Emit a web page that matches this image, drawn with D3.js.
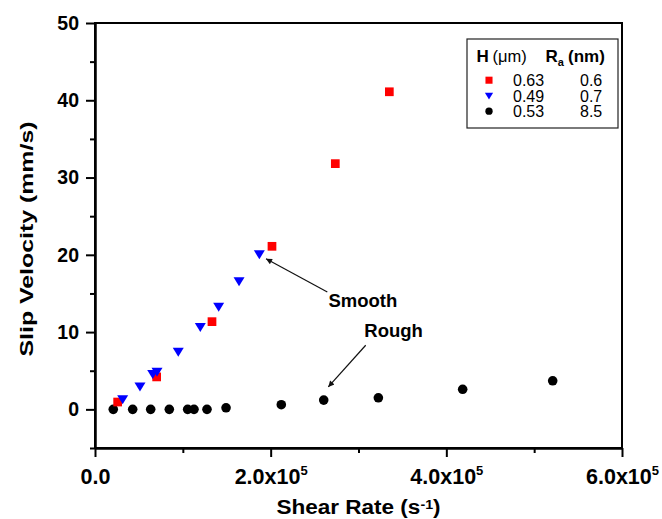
<!DOCTYPE html>
<html>
<head>
<meta charset="utf-8">
<script src="https://cdn.jsdelivr.net/npm/d3@7"></script>
<style>
  body { margin: 0; background: #fff; }
  svg { display: block; font-family: "Liberation Sans", Arial, sans-serif; }
  .x-major .tick text { font-size: 21.5px; font-weight: bold; font-family: "Liberation Sans", Arial, sans-serif; }
  .y-major .tick text { font-size: 19.5px; font-weight: bold; font-family: "Liberation Sans", Arial, sans-serif; }
</style>
</head>
<body>
<svg id="chart" width="662" height="519"></svg>
<script>
/*************************************/
/*            Chart data             */
/*************************************/
// H = 0.63 um, Ra = 0.6 nm
const redX = [25800, 70200, 133200, 201500, 273600, 335100];
const redY = [0.95, 4.2, 11.35, 21.1, 31.8, 41.1];

// H = 0.49 um, Ra = 0.7 nm
const blueX = [31500, 51200, 65700, 70600, 94800, 119900, 140800, 164000, 187100];
const blueY = [1.25, 2.9, 4.5, 4.8, 7.4, 10.6, 13.2, 16.5, 20.0];

// H = 0.53 um, Ra = 8.5 nm
const blackX = [20800, 42900, 63400, 84600, 105500, 112700, 127500, 149200, 212100, 260400, 322600, 418600, 521100];
const blackY = [0, 0, 0, 0, 0, 0, 0, 0.2, 0.6, 1.2, 1.5, 2.6, 3.7];

const legendH  = ["0.63", "0.49", "0.53"];
const legendRa = ["0.6", "0.7", "8.5"];

const xMajorTicks = [0, 200000, 400000, 600000];
const xTickLabels = [["0.0", ""], ["2.0x10", "5"], ["4.0x10", "5"], ["6.0x10", "5"]];
const xMinorTicks = [100000, 300000, 500000];
const yMajorTicks = [0, 10, 20, 30, 40, 50];
const yMinorTicks = [-5, 5, 15, 25, 35, 45];

// annotations, in data units: [label, textX, textY, tailX, tailY, tipX, tipY]
const notes = [
  ["Smooth", 265800, 13.3, 264500, 15.2, 194700, 19.5],
  ["Rough", 306600, 9.4, 308200, 8.3, 265600, 2.9]
];

/*************************************/
/*           Chart setup             */
/*************************************/
const width = 662;
const height = 519;
const margin = { top: 23, right: 40, bottom: 71, left: 95 };
const innerWidth = width - margin.left - margin.right;
const innerHeight = height - margin.top - margin.bottom;

const svg = d3.select("#chart");

const xScale = d3.scaleLinear()
  .domain([0, 600000])
  .range([0, innerWidth]);

const yScale = d3.scaleLinear()
  .domain([-5, 50])
  .range([innerHeight, 0]);

svg.append("defs")
  .append("marker")
    .attr("id", "arrow")
    .attr("viewBox", "0 0 10 10")
    .attr("refX", 10)
    .attr("refY", 5)
    .attr("markerWidth", 9)
    .attr("markerHeight", 6)
    .attr("markerUnits", "userSpaceOnUse")
    .attr("orient", "auto")
  .append("path")
    .attr("d", "M0,0 L10,5 L0,10 z")
    .attr("fill", "#111");

const inner = svg.append("g")
  .attr("transform", `translate(${margin.left}, ${margin.top})`);

/*************************************/
/*              Axes                 */
/*************************************/
const styleAxis = (g) => {
  g.select(".domain").attr("stroke", "#000").attr("stroke-width", 2);
  g.selectAll(".tick line").attr("stroke", "#000").attr("stroke-width", 2);
  g.selectAll(".tick text").attr("fill", "#000");
};

inner.append("g")
  .attr("transform", `translate(0, ${innerHeight})`)
  .call(d3.axisBottom(xScale).tickValues(xMinorTicks).tickSize(5).tickSizeOuter(0).tickFormat(""))
  .call(styleAxis);

const xAxis = inner.append("g")
  .attr("class", "x-major")
  .attr("transform", `translate(0, ${innerHeight})`)
  .call(d3.axisBottom(xScale).tickValues(xMajorTicks).tickSize(9).tickSizeOuter(0).tickPadding(12).tickFormat(""))
  .call(styleAxis);

xAxis.selectAll(".tick text")
  .each(function (_, i) {
    const t = d3.select(this);
    t.append("tspan").text(xTickLabels[i][0]);
    if (xTickLabels[i][1]) {
      t.append("tspan")
        .attr("dy", -9.5)
        .style("font-size", "13px")
        .text(xTickLabels[i][1]);
    }
  });

inner.append("g")
  .call(d3.axisLeft(yScale).tickValues(yMinorTicks).tickSize(5).tickSizeOuter(0).tickFormat(""))
  .call(styleAxis);

inner.append("g")
  .attr("class", "y-major")
  .call(d3.axisLeft(yScale).tickValues(yMajorTicks).tickSize(9).tickSizeOuter(0).tickPadding(7))
  .call(styleAxis);

// top and right frame
inner.append("rect")
  .attr("width", innerWidth)
  .attr("height", innerHeight)
  .attr("fill", "none")
  .attr("stroke", "#000")
  .attr("stroke-width", 2);

/*************************************/
/*           Axis titles             */
/*************************************/
svg.append("text")
  .attr("transform", `translate(33, 239) rotate(-90)`)
  .attr("text-anchor", "middle")
  .attr("textLength", 235)
  .attr("lengthAdjust", "spacingAndGlyphs")
  .style("font-size", "19px")
  .style("font-weight", "bold")
  .text("Slip Velocity (mm/s)");

const xTitle = svg.append("text")
  .attr("transform", `translate(${margin.left + innerWidth / 2}, 514) scale(1.1, 1)`)
  .attr("text-anchor", "middle")
  .style("font-size", "20.5px")
  .style("font-weight", "bold");

xTitle.append("tspan").text("Shear Rate (s");
xTitle.append("tspan").attr("dy", -5.5).style("font-size", "13px").text("-1");
xTitle.append("tspan").attr("dy", 5.5).text(")");

/*************************************/
/*             Markers               */
/*************************************/
// downward triangle centred on its bounding box
const triangleDown = {
  draw(context, size) {
    const w = Math.sqrt(size) * 1.1;
    const h = w * 0.82;
    context.moveTo(-w / 2, -h / 2);
    context.lineTo(w / 2, -h / 2);
    context.lineTo(0, h / 2);
    context.closePath();
  }
};

const toPoints = (xs, ys) => xs.map((x, i) => ({ x, y: ys[i] }));

inner.selectAll(".pt-black")
  .data(toPoints(blackX, blackY))
  .join("circle")
    .attr("class", "pt-black")
    .attr("cx", d => xScale(d.x))
    .attr("cy", d => yScale(d.y))
    .attr("r", 4.8)
    .attr("fill", "#000");

inner.selectAll(".pt-red")
  .data(toPoints(redX, redY))
  .join("path")
    .attr("class", "pt-red")
    .attr("transform", d => `translate(${xScale(d.x)}, ${yScale(d.y)})`)
    .attr("d", d3.symbol(d3.symbolSquare, 76))
    .attr("fill", "#ff0000");

inner.selectAll(".pt-blue")
  .data(toPoints(blueX, blueY))
  .join("path")
    .attr("class", "pt-blue")
    .attr("transform", d => `translate(${xScale(d.x)}, ${yScale(d.y)})`)
    .attr("d", d3.symbol(triangleDown, 100))
    .attr("fill", "#0000ff");

/*************************************/
/*           Annotations             */
/*************************************/
notes.forEach(([label, tx, ty, ax, ay, bx, by]) => {

  inner.append("line")
    .attr("x1", xScale(ax))
    .attr("y1", yScale(ay))
    .attr("x2", xScale(bx))
    .attr("y2", yScale(by))
    .attr("stroke", "#111")
    .attr("stroke-width", 1.2)
    .attr("marker-end", "url(#arrow)");

  inner.append("text")
    .attr("x", xScale(tx))
    .attr("y", yScale(ty))
    .style("font-size", "18.5px")
    .style("font-weight", "bold")
    .text(label);

});

/*************************************/
/*              Legend               */
/*************************************/
const legend = svg.append("g")
  .attr("transform", "translate(467, 39)");

legend.append("rect")
  .attr("width", 151)
  .attr("height", 89)
  .attr("fill", "#fff")
  .attr("stroke", "#222")
  .attr("stroke-width", 1.2);

const header = legend.append("text")
  .attr("x", 9.5)
  .attr("y", 22.7)
  .style("font-size", "17px")
  .style("font-weight", "bold");

header.append("tspan").text("H");
header.append("tspan").attr("x", 25.5).style("font-weight", "normal").style("font-size", "16.5px").text("(\u03bcm)");
header.append("tspan").attr("x", 78.5).text("R");
header.append("tspan").attr("dy", 4.5).style("font-size", "11px").text("a");
header.append("tspan").attr("dy", -4.5).attr("x", 101).text("(nm)");

const rowY = [46.7, 62.5, 77.7];
const legendSymbols = [
  { d: d3.symbol(d3.symbolSquare, 50)(), fill: "#ff0000" },
  { d: d3.symbol(triangleDown, 56)(), fill: "#0000ff" },
  { d: d3.symbol(d3.symbolCircle, 42)(), fill: "#000" }
];

legendH.forEach((h, i) => {

  legend.append("path")
    .attr("transform", `translate(22, ${rowY[i] - 5.5})`)
    .attr("d", legendSymbols[i].d)
    .attr("fill", legendSymbols[i].fill);

  legend.append("text")
    .attr("x", 46)
    .attr("y", rowY[i])
    .style("font-size", "16px")
    .text(h);

  legend.append("text")
    .attr("x", 113)
    .attr("y", rowY[i])
    .style("font-size", "16px")
    .text(legendRa[i]);

});
</script>
</body>
</html>
